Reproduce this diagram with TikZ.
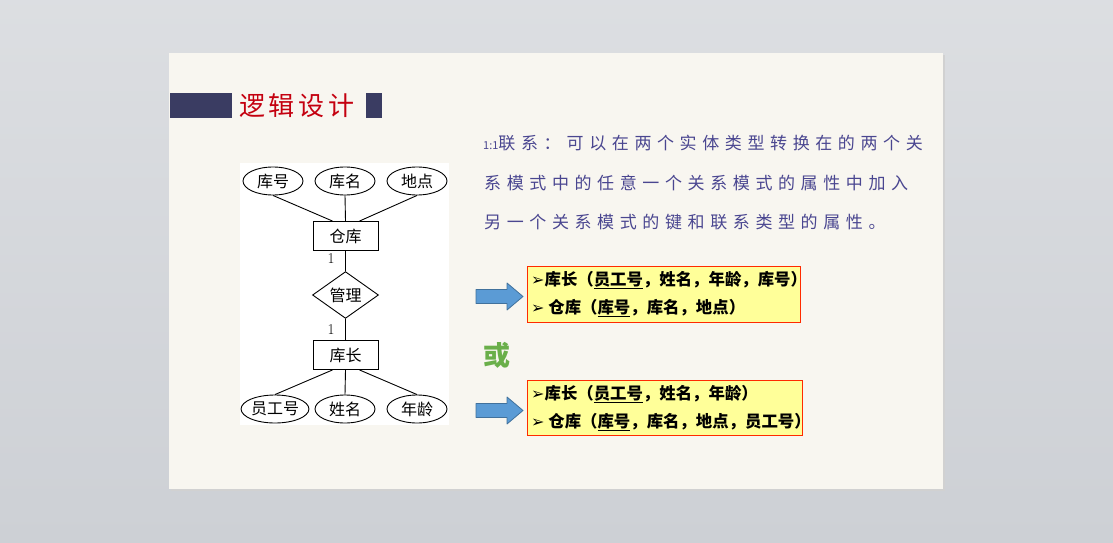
\documentclass[tikz,border=0pt]{standalone}
\usepackage{fontspec}
\newfontfamily\cjk{Noto Sans CJK SC}
\newfontfamily\hand[LetterSpace=33]{Noto Sans CJK SC}
\newfontfamily\titlef[LetterSpace=14]{Noto Sans CJK SC}
\newfontfamily\dingf{DejaVu Sans}
\usetikzlibrary{shapes.geometric}
\definecolor{outerbg}{HTML}{CDD0D5}
\definecolor{slidebg}{HTML}{F8F6F0}
\definecolor{navy}{HTML}{3A3C62}
\definecolor{titlered}{HTML}{C4000F}
\definecolor{handblue}{HTML}{4A4690}
\definecolor{boxyellow}{HTML}{FFFF99}
\definecolor{boxred}{HTML}{FF2A00}
\definecolor{arrowblue}{HTML}{5B9BD5}
\definecolor{arrowedge}{HTML}{41719C}
\definecolor{orgreen}{HTML}{6AAF4A}
\tikzset{
  attr/.style={ellipse, draw, line width=0.9pt, minimum width=60pt, minimum height=28pt, inner sep=0pt, font=\cjk\fontsize{16}{16}\selectfont},
  ent/.style={rectangle, draw, line width=0.9pt, minimum width=65pt, minimum height=29pt, inner sep=0pt, font=\cjk\fontsize{16}{16}\selectfont},
  rel/.style={diamond, draw, line width=0.9pt, minimum width=66pt, minimum height=36pt, inner sep=0pt, font=\cjk\fontsize{16}{16}\selectfont},
  erline/.style={line width=0.9pt},
  card/.style={font=\fontsize{15}{15}\selectfont, inner sep=0pt},
  handtext/.style={anchor=west, inner sep=0pt, text=handblue, font=\hand\fontsize{17}{17}\selectfont},
  ybox/.style={rectangle, draw=boxred, fill=boxyellow, line width=0.9pt, inner sep=0pt},
  boxtext/.style={anchor=west, inner sep=0pt, font=\cjk\bfseries\fontsize{16.4}{16.4}\selectfont},
  blockarrow/.style={fill=arrowblue, draw=arrowedge, line width=0.8pt, line join=round},
}
\newcommand{\pt}{{\dingf\fontsize{16}{16}\selectfont ➢}}
\begin{document}
\begin{tikzpicture}[x=1pt,y=-1pt]
\useasboundingbox (0,0) rectangle (1113,543);
\shade[top color=outerbg!70!white, bottom color=outerbg] (0,0) rectangle (1113,543);
% slide shadow and slide
\fill[black!18] (171,55) rectangle (945,491);
\fill[slidebg] (169,53) rectangle (943,489);
% title
\fill[navy] (170,93) rectangle (232,118);
\fill[navy] (366,93) rectangle (382,118);
\node[anchor=west, inner sep=0pt, text=titlered, font=\titlef\fontsize{26}{26}\selectfont] (title) at (239,106) {逻辑设计};
% ER diagram
\fill[white] (240,163) rectangle (449,425);
\node[attr] (kh) at (273,181) {库号};
\node[attr] (km) at (345,181) {库名};
\node[attr] (dd) at (417,181) {地点};
\node[ent] (ck) at (345.5,236) {仓库};
\node[rel] (gl) at (345.5,295) {管理};
\node[ent] (kz) at (345.5,355) {库长};
\node[attr, minimum width=64pt] (yg) at (275,409) {员工号};
\node[attr] (xm) at (345,409) {姓名};
\node[attr] (nl) at (417,409) {年龄};
\draw[erline] (kh.south) -- ([xshift=-13pt]ck.north);
\draw[erline] (km.south) -- (ck.north);
\draw[erline] (dd.south) -- ([xshift=14pt]ck.north);
\draw[erline] (ck.south) -- (gl.north);
\draw[erline] (gl.south) -- (kz.north);
\draw[erline] ([xshift=-13pt]kz.south) -- (yg.north);
\draw[erline] (kz.south) -- (xm.north);
\draw[erline] ([xshift=14pt]kz.south) -- (nl.north);
\node[card] (c1) at (331,259) {1};
\node[card] (c2) at (331,330) {1};
% handwriting text
\node[handtext] (h1) at (483,143) {{\cjk\fontsize{11}{11}\selectfont 1:1}联系：\hspace{6pt}可以在两个实体类型转换在的两个关};
\node[handtext] (h2) at (484,183) {系模式中的任意一个关系模式的属性中加入};
\node[handtext] (h3) at (484,222) {另一个关系模式的键和联系类型的属性。};
% arrows
\fill[blockarrow] (476,289.5) -- (507,289.5) -- (507,283) -- (523,296.5) -- (507,310) -- (507,303.5) -- (476,303.5) -- cycle;
\fill[blockarrow] (476,403.5) -- (507,403.5) -- (507,397) -- (523,410.5) -- (507,424) -- (507,417.5) -- (476,417.5) -- cycle;
% boxes
\node[ybox, minimum width=273pt, minimum height=56pt] (b1) at (663.5,294) {};
\node[boxtext] (b1a) at (531,280) {\pt 库长（\underline{员工号}，姓名，年龄，库号）};
\node[boxtext] (b1b) at (531,308) {\pt\ 仓库（\underline{库号}，库名，地点）};
\node[text=orgreen, inner sep=0pt, font=\cjk\bfseries\fontsize{27}{27}\selectfont] (or) at (497,355) {或};
\node[ybox, minimum width=275pt, minimum height=55pt] (b2) at (664.5,407.5) {};
\node[boxtext] (b2a) at (531,394) {\pt 库长（\underline{员工号}，姓名，年龄）};
\node[boxtext] (b2b) at (531,422) {\pt\ 仓库（\underline{库号}，库名，地点，员工号）};
\end{tikzpicture}
\end{document}
